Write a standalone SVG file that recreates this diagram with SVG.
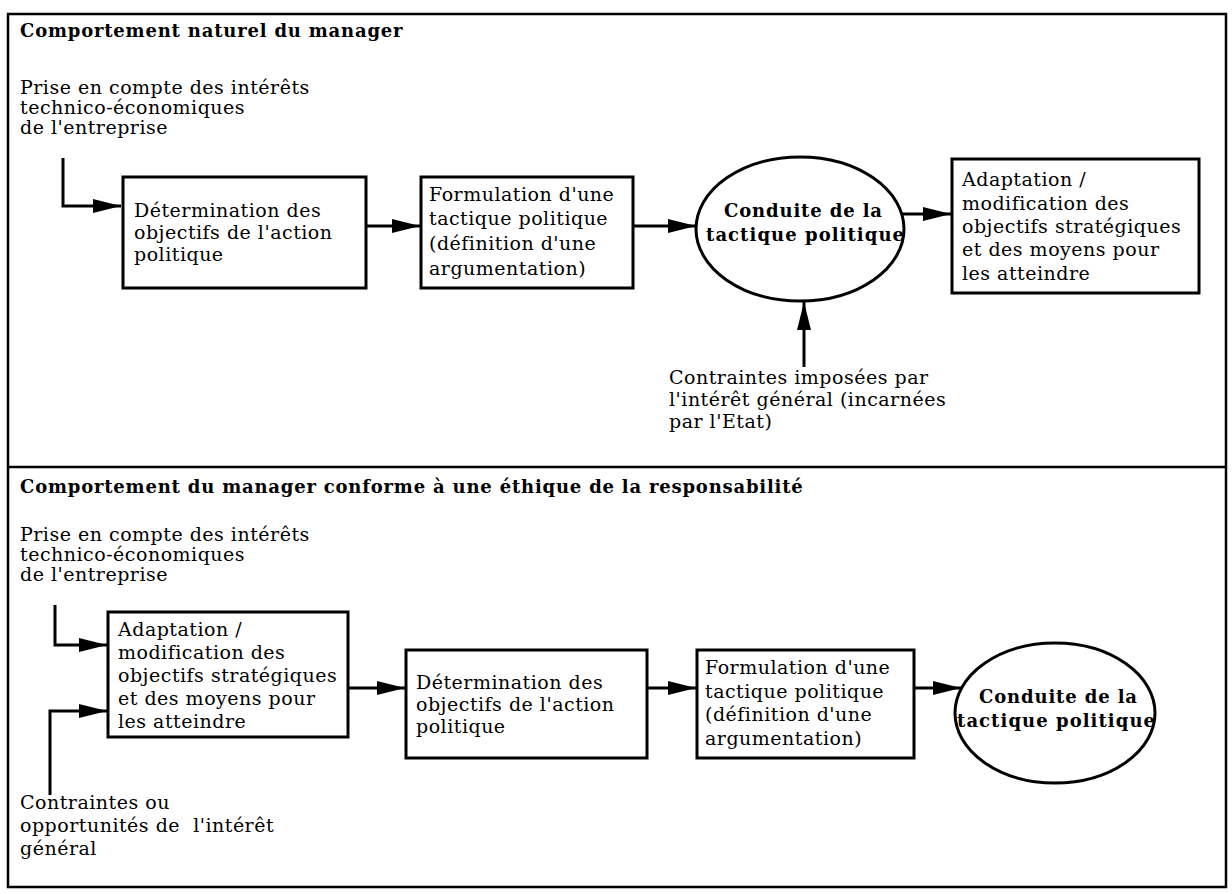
<svg xmlns="http://www.w3.org/2000/svg" width="1232" height="894" viewBox="0 0 1232 894">
  <defs>
    <marker id="arrow" markerUnits="userSpaceOnUse" markerWidth="30" markerHeight="16" refX="28" refY="7" orient="auto">
      <path d="M0,0 L28,7 L0,14 z" fill="#000"/>
    </marker>
    <style>
      .frame { fill: none; stroke: #000; stroke-width: 2.5; }
      .box { fill: #fff; stroke: #000; stroke-width: 3; }
      .link { fill: none; stroke: #000; stroke-width: 3; marker-end: url(#arrow); }
      .txt { font-family: "DejaVu Serif", "Liberation Serif", serif; font-size: 19px; letter-spacing: 0.5px; fill: #000; }
      .head { font-family: "DejaVu Serif", "Liberation Serif", serif; font-size: 18px; font-weight: bold; letter-spacing: 0.8px; fill: #000; }
      .bold { font-family: "DejaVu Serif", "Liberation Serif", serif; font-size: 18px; font-weight: bold; fill: #000; text-anchor: middle; }
    </style>
  </defs>

  <rect width="1232" height="894" fill="#fff"/>

  <!-- outer frame and panel divider -->
  <rect class="frame" x="8" y="14" width="1218" height="873"/>
  <line class="frame" x1="8" y1="467" x2="1226" y2="467"/>

  <!-- ===== upper panel ===== -->
  <text class="head" x="20" y="37">Comportement naturel du manager</text>

  <g id="interets-1">
    <text class="txt" x="20" y="94">Prise en compte des intérêts</text>
    <text class="txt" x="20" y="114">technico-économiques</text>
    <text class="txt" x="20" y="134">de l'entreprise</text>
  </g>

  <g id="determination-1">
    <rect class="box" x="123" y="177" width="243" height="111"/>
    <text class="txt" x="134" y="217">Détermination des</text>
    <text class="txt" x="134" y="239">objectifs de l'action</text>
    <text class="txt" x="134" y="261">politique</text>
  </g>

  <g id="formulation-1">
    <rect class="box" x="421" y="177" width="212" height="111"/>
    <text class="txt" x="429" y="201">Formulation d'une</text>
    <text class="txt" x="429" y="225">tactique politique</text>
    <text class="txt" x="429" y="250">(définition d'une</text>
    <text class="txt" x="429" y="275">argumentation)</text>
  </g>

  <g id="conduite-1">
    <ellipse class="box" cx="800" cy="229" rx="104" ry="72"/>
    <text class="bold" x="803" y="217" textLength="158" lengthAdjust="spacing">Conduite de la</text>
    <text class="bold" x="805" y="241" textLength="198" lengthAdjust="spacing">tactique politique</text>
  </g>

  <g id="adaptation-1">
    <rect class="box" x="952" y="159" width="247" height="134"/>
    <text class="txt" x="962" y="186">Adaptation /</text>
    <text class="txt" x="962" y="210">modification des</text>
    <text class="txt" x="962" y="233">objectifs stratégiques</text>
    <text class="txt" x="962" y="256">et des moyens pour</text>
    <text class="txt" x="962" y="280">les atteindre</text>
  </g>

  <g id="contraintes-1">
    <text class="txt" x="669" y="384">Contraintes imposées par</text>
    <text class="txt" x="669" y="406">l'intérêt général (incarnées</text>
    <text class="txt" x="669" y="428">par l'Etat)</text>
  </g>

  <!-- ===== lower panel ===== -->
  <text class="head" x="20" y="493">Comportement du manager conforme à une éthique de la responsabilité</text>

  <g id="interets-2">
    <text class="txt" x="20" y="541">Prise en compte des intérêts</text>
    <text class="txt" x="20" y="561">technico-économiques</text>
    <text class="txt" x="20" y="581">de l'entreprise</text>
  </g>

  <g id="adaptation-2">
    <rect class="box" x="108" y="612" width="240" height="125"/>
    <text class="txt" x="118" y="636">Adaptation /</text>
    <text class="txt" x="118" y="659">modification des</text>
    <text class="txt" x="118" y="682">objectifs stratégiques</text>
    <text class="txt" x="118" y="705">et des moyens pour</text>
    <text class="txt" x="118" y="728">les atteindre</text>
  </g>

  <g id="contraintes-2">
    <text class="txt" x="20" y="809">Contraintes ou</text>
    <text class="txt" x="20" y="832">opportunités de&#160; l'intérêt</text>
    <text class="txt" x="20" y="855">général</text>
  </g>

  <g id="determination-2">
    <rect class="box" x="406" y="650" width="241" height="108"/>
    <text class="txt" x="416" y="689">Détermination des</text>
    <text class="txt" x="416" y="711">objectifs de l'action</text>
    <text class="txt" x="416" y="733">politique</text>
  </g>

  <g id="formulation-2">
    <rect class="box" x="697" y="650" width="217" height="108"/>
    <text class="txt" x="705" y="674">Formulation d'une</text>
    <text class="txt" x="705" y="698">tactique politique</text>
    <text class="txt" x="705" y="721">(définition d'une</text>
    <text class="txt" x="705" y="745">argumentation)</text>
  </g>

  <g id="conduite-2">
    <ellipse class="box" cx="1055" cy="713" rx="100" ry="70"/>
    <text class="bold" x="1058" y="703" textLength="158" lengthAdjust="spacing">Conduite de la</text>
    <text class="bold" x="1056" y="727" textLength="198" lengthAdjust="spacing">tactique politique</text>
  </g>

  <!-- connectors -->
  <g id="connectors">
    <path class="link" d="M63,158 V206 H121"/>
    <path class="link" d="M366,226 H420"/>
    <path class="link" d="M633,226 H696"/>
    <path class="link" d="M902,214 H951"/>
    <path class="link" d="M804,367 V302"/>

    <path class="link" d="M55,605 V645 H107"/>
    <path class="link" d="M50,795 V711 H107"/>
    <path class="link" d="M348,688 H405"/>
    <path class="link" d="M647,688 H696"/>
    <path class="link" d="M914,688 H961"/>
  </g>
</svg>
